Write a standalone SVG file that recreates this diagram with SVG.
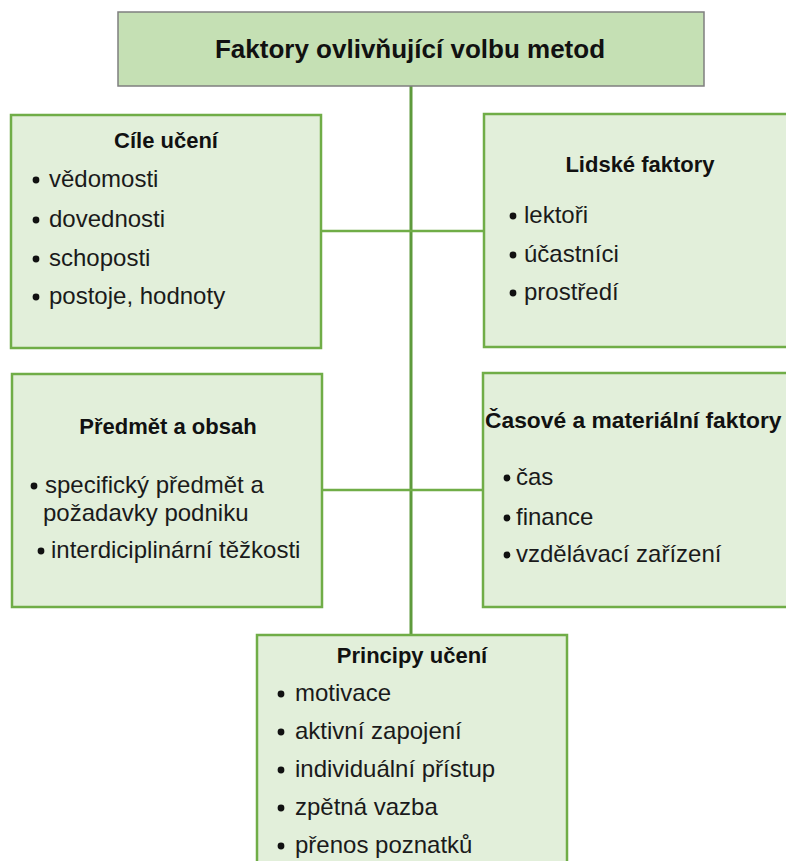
<svg xmlns="http://www.w3.org/2000/svg" width="786" height="861" viewBox="0 0 786 861">
<style>
.box{fill:#e2efda;stroke:#70ad47;stroke-width:2.5}
.top{fill:#c5e0b4;stroke:#7f7f7f;stroke-width:1.5}
.ttl{font-family:"Liberation Sans",Arial,sans-serif;font-weight:bold;font-size:22px;fill:#111;text-anchor:middle}
.main{font-family:"Liberation Sans",Arial,sans-serif;font-weight:bold;font-size:26px;fill:#111;text-anchor:middle}
.it{font-family:"Liberation Sans",Arial,sans-serif;font-size:24px;fill:#1a1a1a}
.bul{fill:#111}
.con{stroke:#70ad47;stroke-width:2.5;fill:none}
.spine{stroke:#5e9a3c;stroke-width:3;fill:none}
</style>
<rect width="786" height="861" fill="#ffffff"/>
<g id="connectors">
<line class="spine" x1="411" y1="86" x2="411" y2="635"/>
<line class="con" x1="321" y1="231" x2="484" y2="231"/>
<line class="con" x1="322" y1="490" x2="483" y2="490"/>
</g>
<g id="root">
<rect class="top" x="118" y="12" width="586" height="74"/>
<text class="main" x="410" y="58">Faktory ovlivňující volbu metod</text>
</g>
<g id="cile">
<rect class="box" x="11" y="115" width="310" height="233"/>
<text class="ttl" x="166" y="148">Cíle učení</text>
<circle class="bul" cx="36" cy="180" r="3.4"/><text class="it" x="49" y="187">vědomosti</text>
<circle class="bul" cx="36" cy="220" r="3.4"/><text class="it" x="49" y="227">dovednosti</text>
<circle class="bul" cx="36" cy="259" r="3.4"/><text class="it" x="49" y="266">schoposti</text>
<circle class="bul" cx="36" cy="297" r="3.4"/><text class="it" x="49" y="304">postoje, hodnoty</text>
</g>
<g id="lidske">
<rect class="box" x="484" y="114" width="310" height="233"/>
<text class="ttl" x="640" y="172">Lidské faktory</text>
<circle class="bul" cx="513" cy="216" r="3.4"/><text class="it" x="524" y="223">lektoři</text>
<circle class="bul" cx="513" cy="255" r="3.4"/><text class="it" x="524" y="262">účastníci</text>
<circle class="bul" cx="513" cy="293" r="3.4"/><text class="it" x="524" y="300">prostředí</text>
</g>
<g id="predmet">
<rect class="box" x="12" y="374" width="310" height="233"/>
<text class="ttl" x="168" y="434">Předmět a obsah</text>
<circle class="bul" cx="34" cy="486" r="3.4"/><text class="it" x="45" y="493">specifický předmět a</text>
<text class="it" x="43" y="521">požadavky podniku</text>
<circle class="bul" cx="41" cy="551" r="3.4"/><text class="it" x="51" y="558">interdiciplinární těžkosti</text>
</g>
<g id="casove">
<rect class="box" x="483" y="373" width="310" height="234"/>
<text class="ttl" x="485" y="428" style="text-anchor:start;font-size:22.8px">Časové a materiální faktory</text>
<circle class="bul" cx="507" cy="478" r="3.4"/><text class="it" x="516" y="485">čas</text>
<circle class="bul" cx="507" cy="518" r="3.4"/><text class="it" x="516" y="525">finance</text>
<circle class="bul" cx="507" cy="555" r="3.4"/><text class="it" x="516" y="562">vzdělávací zařízení</text>
</g>
<g id="principy">
<rect class="box" x="257" y="635" width="310" height="240"/>
<text class="ttl" x="412" y="663">Principy učení</text>
<circle class="bul" cx="281" cy="694" r="3.4"/><text class="it" x="295" y="701">motivace</text>
<circle class="bul" cx="281" cy="732" r="3.4"/><text class="it" x="295" y="739">aktivní zapojení</text>
<circle class="bul" cx="281" cy="770" r="3.4"/><text class="it" x="295" y="777">individuální přístup</text>
<circle class="bul" cx="281" cy="808" r="3.4"/><text class="it" x="295" y="815">zpětná vazba</text>
<circle class="bul" cx="281" cy="846" r="3.4"/><text class="it" x="295" y="853">přenos poznatků</text>
</g>
</svg>
